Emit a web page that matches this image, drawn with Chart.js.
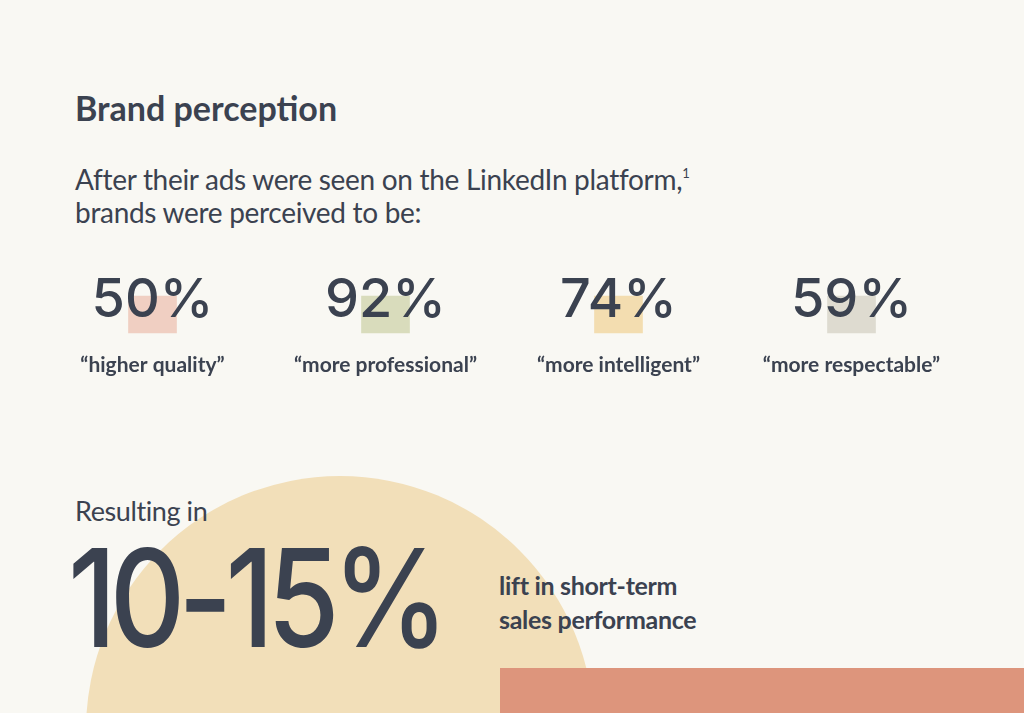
<!DOCTYPE html>
<html>
<head>
<meta charset="utf-8">
<script src="https://cdn.jsdelivr.net/npm/chart.js@4/dist/chart.umd.min.js"></script>
<style>
  html, body { margin: 0; padding: 0; }
  body { width: 1024px; height: 713px; background: #f9f8f3; position: relative; overflow: hidden; font-family: Lato, "Open Sans", sans-serif; color: #3b4250; }
  .circle { position: absolute; left: 86px; top: 476px; width: 508px; height: 508px; border-radius: 50%; background: #f2dfb9; }
  .strip { position: absolute; left: 500px; top: 668px; width: 524px; height: 45px; background: #dd957c; }
  .t { position: absolute; white-space: nowrap; }
  #wrap { position: absolute; left: 0; top: 260px; width: 1024px; height: 130px; }
</style>
</head>
<body>
<div class="circle"></div>
<div class="strip"></div>
<div class="t" style="left:75px;top:87px;font-size:34px;font-weight:700;">Brand perception</div>
<div class="t" style="left:75px;top:157px;font-size:28px;line-height:33px;letter-spacing:-0.3px;">After their ads were seen on the LinkedIn platform,<sup style="font-size:13px;vertical-align:12px;">1</sup><br>brands were perceived to be:</div>
<div class="t" style="left:75px;top:494px;font-size:27px;letter-spacing:-0.4px;">Resulting in</div>
<div class="t" style="left:68px;top:528px;font-family:Inter,sans-serif;font-weight:500;font-size:136px;line-height:140px;letter-spacing:-8px;transform:scaleX(0.86);transform-origin:left top;">10-15%</div>
<div class="t" style="left:499px;top:568px;font-size:25px;line-height:34px;font-weight:700;letter-spacing:-0.3px;">lift in short-term<br>sales performance</div>
<div id="wrap"><canvas id="stats"></canvas></div>
<script>
var labels = ["\u201chigher quality\u201d", "\u201cmore professional\u201d", "\u201cmore intelligent\u201d", "\u201cmore respectable\u201d"];
var percents = [50, 92, 74, 59];
var bubbleColors = ["#f0cfc2", "#d9dcbc", "#f3ddb0", "#dedbd0"];

// numbers + labels + bubble tails
var statText = {
    id: "statText",
    afterDatasetsDraw: function (chart) {
        var ctx = chart.ctx;
        var meta = chart.getDatasetMeta(0);
        ctx.save();
        meta.data.forEach(function (bar, i) {
            ctx.fillStyle = bubbleColors[i];
            ctx.beginPath();
            ctx.moveTo(bar.x - 14, bar.base);
            ctx.lineTo(bar.x - 6, bar.base + 9);
            ctx.lineTo(bar.x + 2, bar.base);
            ctx.closePath();
            ctx.fill();
            ctx.fillStyle = "#3b4250";
            ctx.textAlign = "center";
            ctx.font = "500 54px Inter, sans-serif";
            ctx.fillText(percents[i] + "%", bar.x, 57);
            ctx.font = "bold 21px Lato, sans-serif";
            ctx.fillText(labels[i], bar.x, 112);
        });
        ctx.restore();
    }
};

new Chart(document.getElementById("stats"), {
    type: "bar",
    data: {
        labels: labels,
        datasets: [{
            data: percents.map(function () { return [36, 73]; }),
            backgroundColor: bubbleColors,
            barThickness: 48
        }]
    },
    options: {
        responsive: true,
        maintainAspectRatio: false,
        animation: false,
        layout: { padding: { left: 36, right: 56, top: 0, bottom: 0 } },
        plugins: { legend: { display: false }, tooltip: { enabled: false } },
        scales: {
            x: { display: false },
            y: { display: false, min: 0, max: 130, reverse: true }
        }
    },
    plugins: [statText]
});
</script>
</body>
</html>
